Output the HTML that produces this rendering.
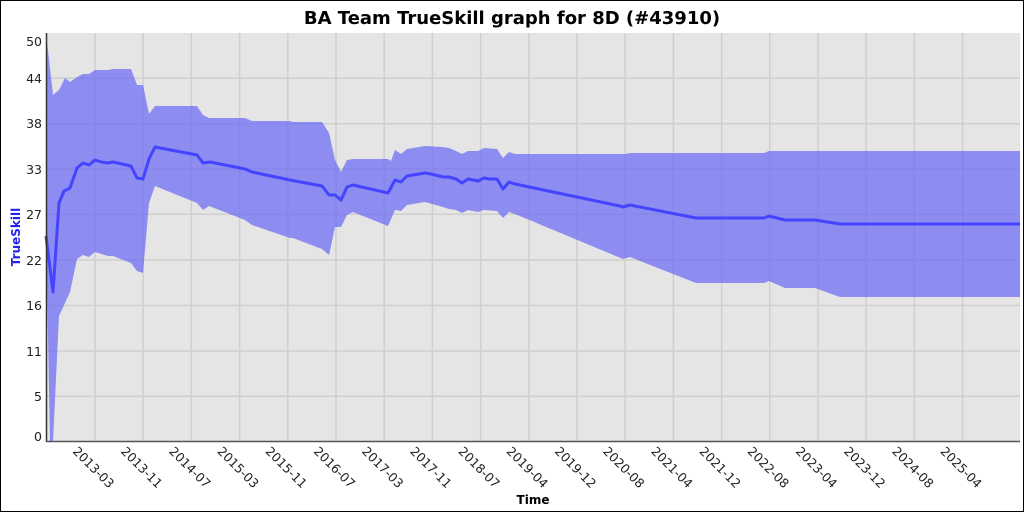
<!DOCTYPE html>
<html><head><meta charset="utf-8"><style>
html,body{margin:0;padding:0;background:#fff}
svg{display:block;font-family:"DejaVu Sans","Liberation Sans",sans-serif}
</style></head><body>
<svg width="1024" height="512" viewBox="0 0 1024 512">
<rect x="0.5" y="0.5" width="1023" height="511" fill="#fff" stroke="#000"/>
<text x="512" y="24" text-anchor="middle" font-size="18" font-weight="bold">BA Team TrueSkill graph for 8D (#43910)</text>
<rect x="46" y="33" width="974" height="409" fill="#e5e5e5"/>
<g stroke="#cfcfcf" stroke-width="1.5">
<line x1="46" x2="1020" y1="396.3" y2="396.3"/><line x1="46" x2="1020" y1="351" y2="351"/>
<line x1="46" x2="1020" y1="305.5" y2="305.5"/><line x1="46" x2="1020" y1="260" y2="260"/>
<line x1="46" x2="1020" y1="214.3" y2="214.3"/><line x1="46" x2="1020" y1="169" y2="169"/>
<line x1="46" x2="1020" y1="123.7" y2="123.7"/><line x1="46" x2="1020" y1="78.3" y2="78.3"/>
<g id="vg"></g>
</g>
<g stroke="#cfcfcf" stroke-width="1.5">
<line x1="95" x2="95" y1="33" y2="442"/><line x1="143.2" x2="143.2" y1="33" y2="442"/><line x1="191.4" x2="191.4" y1="33" y2="442"/><line x1="239.6" x2="239.6" y1="33" y2="442"/><line x1="287.8" x2="287.8" y1="33" y2="442"/><line x1="336" x2="336" y1="33" y2="442"/><line x1="384.2" x2="384.2" y1="33" y2="442"/><line x1="432.4" x2="432.4" y1="33" y2="442"/><line x1="480.6" x2="480.6" y1="33" y2="442"/><line x1="528.8" x2="528.8" y1="33" y2="442"/><line x1="577" x2="577" y1="33" y2="442"/><line x1="625.2" x2="625.2" y1="33" y2="442"/><line x1="673.4" x2="673.4" y1="33" y2="442"/><line x1="721.6" x2="721.6" y1="33" y2="442"/><line x1="769.8" x2="769.8" y1="33" y2="442"/><line x1="818" x2="818" y1="33" y2="442"/><line x1="866.2" x2="866.2" y1="33" y2="442"/><line x1="914.4" x2="914.4" y1="33" y2="442"/><line x1="962.6" x2="962.6" y1="33" y2="442"/>
</g>
<polygon fill="#6a6af5" fill-opacity="0.72" points="46,33 53,95 59,90 65,78 70,82 77,77 83,74 89,74 95,70 108,70 113,69 131,69 137,85 143,85 149,114 155,106 197,106 203,115 209,118 245,118 252,121 290,121 293,122 322,122 329,133 335,160 341,172 347,160 353,159 388,159 391,161 395,150 401,154 407,149 425,146 443,147 449,148 456,151 462,154 468,151 478,151 484,148 497,149 503,158 509,152 515,154 626,154 630,153 764,153 769,151 1020,151 1020,297 840,297 815,288 785,288 769,281 764,283 696,283 630,257 623,259 515,214 509,212 503,218 497,211 484,210 478,212 468,210 462,213 456,210 449,209 443,207 425,202 407,205 401,211 395,210 388,226 353,212 347,215 341,227 335,227 329,255 322,249 293,238 290,238 252,225 245,220 209,206 203,210 197,203 155,186 149,203 143,273 137,271 131,263 113,256 108,256 95,252 89,257 83,255 77,259 70,292 65,303 59,316 53,441 50,441 46,230"/>
<polyline fill="none" stroke="#4444ff" stroke-width="3" stroke-linejoin="round" points="46,236 53,292 59,203 64,191 70,188 77,168 83,163 89,165 95,160 101,162 108,163 113,162 131,166 137,178 143,179 149,159 155,147 197,155 203,163 210,162 245,169 252,172 290,180 322,186 329,195 335,195 341,200 347,187 353,185 388,193 395,180 401,182 407,176 425,173 431,174 443,177 449,177 456,179 462,183 468,179 478,181 484,178 490,179 497,179 503,189 509,182 515,184 620,206 623,207 630,205 696,218 764,218 769,216 785,220 815,220 840,224 1020,224"/>
<line x1="46.5" x2="46.5" y1="33" y2="442" stroke="#333" stroke-width="1.5"/>
<line x1="46" x2="1020" y1="441.5" y2="441.5" stroke="#555" stroke-width="1.5"/>
<g font-size="12.5" fill="#222" text-anchor="end">
<text x="42" y="441">0</text><text x="42" y="401">5</text><text x="42" y="356">11</text><text x="42" y="310">16</text><text x="42" y="265">22</text><text x="42" y="219">27</text><text x="42" y="174">33</text><text x="42" y="128">38</text><text x="42" y="83">44</text><text x="42" y="46">50</text>
</g>
<text transform="translate(20,237) rotate(-90)" text-anchor="middle" font-size="12" font-weight="bold" fill="#2222ee">TrueSkill</text>
<g font-size="12.5" fill="#222">
<text transform="translate(72,452) rotate(45)">2013-03</text>
<text transform="translate(120.2,452) rotate(45)">2013-11</text>
<text transform="translate(168.4,452) rotate(45)">2014-07</text>
<text transform="translate(216.6,452) rotate(45)">2015-03</text>
<text transform="translate(264.8,452) rotate(45)">2015-11</text>
<text transform="translate(313,452) rotate(45)">2016-07</text>
<text transform="translate(361.2,452) rotate(45)">2017-03</text>
<text transform="translate(409.4,452) rotate(45)">2017-11</text>
<text transform="translate(457.6,452) rotate(45)">2018-07</text>
<text transform="translate(505.8,452) rotate(45)">2019-04</text>
<text transform="translate(554,452) rotate(45)">2019-12</text>
<text transform="translate(602.2,452) rotate(45)">2020-08</text>
<text transform="translate(650.4,452) rotate(45)">2021-04</text>
<text transform="translate(698.6,452) rotate(45)">2021-12</text>
<text transform="translate(746.8,452) rotate(45)">2022-08</text>
<text transform="translate(795,452) rotate(45)">2023-04</text>
<text transform="translate(843.2,452) rotate(45)">2023-12</text>
<text transform="translate(891.4,452) rotate(45)">2024-08</text>
<text transform="translate(939.6,452) rotate(45)">2025-04</text>
</g>
<text x="533" y="504" text-anchor="middle" font-size="12" font-weight="bold">Time</text>
</svg>
</body></html>
